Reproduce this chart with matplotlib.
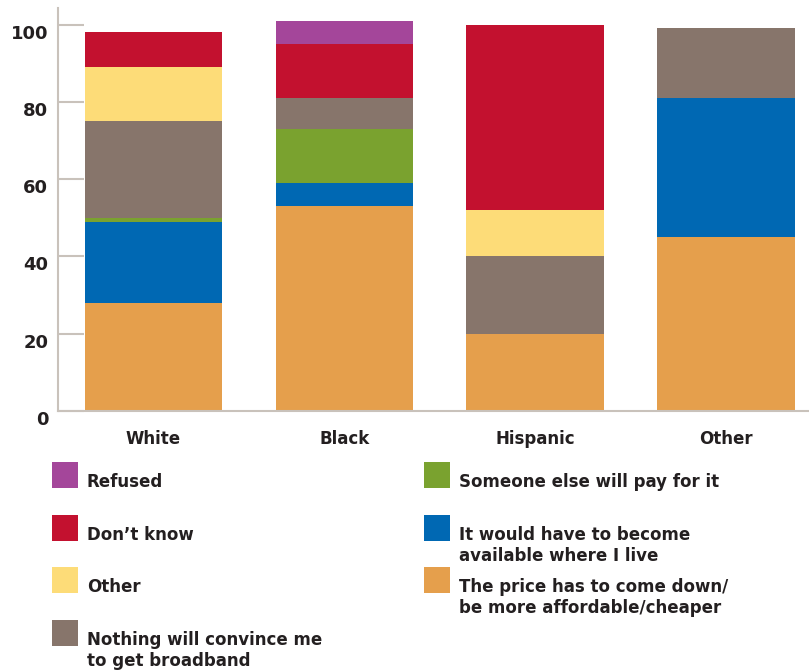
import matplotlib
matplotlib.use("Agg")
import matplotlib.pyplot as plt
from matplotlib.patches import Rectangle
from matplotlib.transforms import ScaledTranslation
import numpy as np

categories = ["White", "Black", "Hispanic", "Other"]
series_names = ["The price has to come down/\nbe more affordable/cheaper",
                "It would have to become\navailable where I live",
                "Someone else will pay for it",
                "Nothing will convince me\nto get broadband",
                "Other",
                "Don\u2019t know",
                "Refused"]
price     = [28, 53, 20, 45]
available = [21, 6, 0, 36]
someone   = [1, 14, 0, 0]
nothing   = [25, 8, 20, 18]
other     = [14, 0, 12, 0]
dontknow  = [9, 14, 48, 0]
refused   = [0, 6, 0, 0]
series = [price, available, someone, nothing, other, dontknow, refused]
colors = ["#E59F4C", "#0068B3", "#7AA22F", "#87756B", "#FDDC78", "#C3112F", "#A4469A"]
yticks = [0, 20, 40, 60, 80, 100]

FONT = "DejaVu Sans"
FS = 12
W, H = 809, 671
fig = plt.figure(figsize=(W / 100, H / 100), dpi=100)
ax = fig.add_axes([58 / W, 1 - 411 / H, 1 - 58 / W, (411 - 8) / H])

x = np.arange(len(categories))
bottom = np.zeros(len(categories))
for vals, c in zip(series, colors):
    v = np.array(vals, dtype=float)
    ax.bar(x, v, width=0.72, bottom=bottom, color=c, linewidth=0, zorder=2)
    bottom += v

ax.set_xlim(-0.5, 3.435)
ax.set_ylim(0, 104.3)
for s in ["top", "right"]:
    ax.spines[s].set_visible(False)
for s in ["left", "bottom"]:
    ax.spines[s].set_color("#C9C2BB")
    ax.spines[s].set_linewidth(1.5)
ax.set_yticks(yticks)
ax.set_yticklabels([str(t) for t in yticks], fontsize=FS + 1, fontweight="bold",
                   family=FONT, color="#231F20")
ax.tick_params(axis="y", direction="in", length=19, width=1.5, color="#C9C2BB", pad=7)
off = ScaledTranslation(0, -7 / 100, fig.dpi_scale_trans)
for lab in ax.get_yticklabels():
    lab.set_transform(lab.get_transform() + off)
ax.set_xticks(x)
ax.set_xticklabels(categories, fontsize=FS, fontweight="bold", family=FONT, color="#231F20")
ax.tick_params(axis="x", length=0, pad=14)

# legend drawn manually (figure pixel coordinates)
def px(xp, yp):
    return xp / W, 1 - yp / H

legend_items = [
    (6, 52, 462), (5, 52, 515), (4, 52, 567), (3, 52, 620),
    (2, 424, 462), (1, 424, 515), (0, 424, 567),
]
for idx, lx, ly in legend_items:
    x0, y0 = px(lx, ly + 26)
    fig.add_artist(Rectangle((x0, y0), 26 / W, 26 / H, transform=fig.transFigure,
                             facecolor=colors[idx], edgecolor="none"))
    tx, ty = px(lx + 35, ly + 11)
    fig.text(tx, ty, series_names[idx], fontsize=FS, fontweight="bold", family=FONT,
             color="#231F20", va="top", ha="left", linespacing=1.2)

fig.savefig("out.png", dpi=100)
